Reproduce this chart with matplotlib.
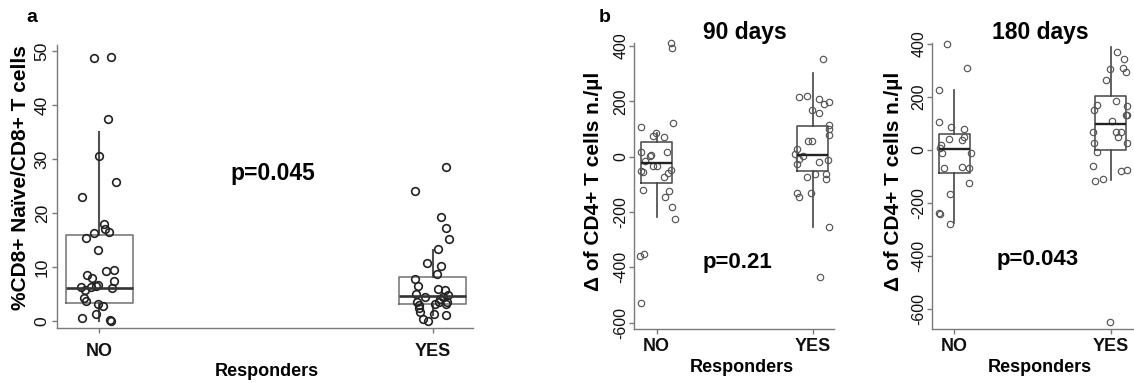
import matplotlib
matplotlib.use("Agg")
import matplotlib.pyplot as plt
import numpy as np

plt.rcParams['font.family'] = ['Liberation Sans', 'DejaVu Sans']

groups = ['NO', 'YES']

# ---- Panel a: %CD8+ Naive / CD8+ T cells ----
a_no_vals = [48.7, 49.0, 37.4, 30.5, 25.7, 23.0, 17.9, 17.0, 16.4, 16.3, 15.4, 13.2,
             9.2, 9.5, 8.5, 7.9, 7.3, 6.3, 5.7, 6.3, 6.5, 6.7, 6.1, 4.2, 3.6, 3.1,
             2.8, 1.3, 0.5, 0.0, 0.1]
a_no_jit = [-0.015, 0.036, 0.027, 0.0, 0.051, -0.051, 0.015, 0.018, 0.030, -0.015,
            -0.039, -0.003, 0.021, 0.045, -0.036, -0.021, 0.045, -0.054, -0.042,
            -0.024, -0.009, -0.003, 0.039, -0.045, -0.039, -0.003, 0.012, -0.009,
            -0.051, 0.036, 0.033]
a_yes_vals = [28.5, 24.0, 19.2, 17.3, 15.1, 13.3, 10.7, 10.1, 8.6, 7.7, 6.4, 5.9,
              5.8, 5.0, 4.4, 4.5, 4.8, 4.1, 3.4, 3.0, 3.2, 3.4, 3.4, 2.4, 1.7, 3.1,
              1.3, 1.0, 0.4, 0.0]
a_yes_jit = [0.039, -0.054, 0.024, 0.039, 0.048, 0.015, -0.018, 0.024, 0.012, -0.054,
             -0.045, 0.015, 0.036, -0.051, -0.024, 0.030, 0.045, 0.021, -0.048,
             -0.042, 0.006, 0.018, 0.042, -0.042, -0.039, 0.039, 0.003, 0.039,
             -0.030, -0.015]
# box stats: q1, median, q3, lower whisker, upper whisker
a_box = {'NO': (3.3, 6.1, 16.0, 0.0, 35.0), 'YES': (3.2, 4.6, 8.1, 1.0, 13.1)}
a_yticks = [0, 10, 20, 30, 40, 50]

# ---- Panel b: delta CD4+ T cells, 90 days ----
b90_no_vals = [410, 394, 108, 121, 85, 75, 72, 17, 16, 6, 4, -16, -33, -34, -52, -55,
               -48, -58, -74, -120, -124, -147, -181, -226, -358, -353, -530]
b90_no_jit = [0.092, 0.101, -0.098, 0.107, -0.004, -0.026, 0.049, -0.103, 0.064,
              -0.038, -0.043, -0.075, -0.021, 0.004, -0.103, -0.090, 0.092, 0.075,
              0.049, -0.085, 0.079, 0.051, 0.096, 0.117, -0.107, -0.081, -0.103]
b90_yes_vals = [352, 215, 220, 210, 192, 198, 168, 157, 115, 100, 80, 58, 56, 29, 9, 4,
                -8, -26, -12, -20, -73, -63, -61, -82, -130, -145, -130, -255, -434]
b90_yes_jit = [0.064, -0.088, -0.040, 0.037, 0.069, 0.104, -0.004, 0.043, 0.107, 0.107,
               0.107, -0.028, -0.002, -0.101, -0.111, -0.060, -0.085, -0.103, 0.098,
               0.038, -0.038, 0.015, 0.085, 0.083, -0.103, -0.085, -0.013, 0.104, 0.047]
b90_box = {'NO': (-95, -22, 54, -219, 87), 'YES': (-52, 5, 111, -253, 301)}

# ---- Panel b: delta CD4+ T cells, 180 days ----
b180_no_vals = [400, 308, 226, 107, 88, 80, 40, 38, 48, 20, 6, -10, -13, -69, -63, -68,
                -123, -166, -239, -240, -279]
b180_no_jit = [-0.047, 0.081, -0.098, -0.098, -0.019, 0.059, -0.036, 0.049, 0.062,
               -0.083, -0.091, -0.079, 0.109, -0.064, 0.051, 0.094, 0.094, -0.027,
               -0.096, -0.090, -0.027]
b180_yes_vals = [369, 343, 306, 308, 296, 264, 184, 170, 166, 150, 132, 132, 111, 67, 67,
                 69, 48, 25, 25, -6, -59, -79, -77, -108, -117, -650]
b180_yes_jit = [0.043, 0.088, -0.006, 0.081, 0.100, -0.030, 0.034, -0.085, 0.102, -0.107,
                0.096, 0.102, 0.011, -0.115, 0.032, 0.066, 0.049, -0.104, 0.102, -0.085,
                -0.115, 0.066, 0.102, -0.047, -0.102, -0.006]
b180_box = {'NO': (-87, 2, 60, -277, 228), 'YES': (0, 97, 205, -113, 388)}
b_yticks = [-600, -400, -200, 0, 200, 400]

titles = ['90 days', '180 days']
p_texts = ['p=0.045', 'p=0.21', 'p=0.043']

W, H = 1134, 383
fig = plt.figure(figsize=(W / 100, H / 100), dpi=100)


def px_ax(l, t, r, b):
    return fig.add_axes([l / W, 1 - b / H, (r - l) / W, (b - t) / H])


def make_stats(box):
    out = []
    for g in groups:
        q1, med, q3, lo, hi = box[g]
        out.append(dict(q1=q1, med=med, q3=q3, whislo=lo, whishi=hi, fliers=[]))
    return out


def style_axes(ax, yticks, tick_fs, xpad, ypad):
    for s in ['top', 'right']:
        ax.spines[s].set_visible(False)
    for s in ['left', 'bottom']:
        ax.spines[s].set_color('#7a7a7a')
        ax.spines[s].set_linewidth(1.0)
    ax.set_xticks([1, 2])
    ax.set_xticklabels(groups, fontsize=13, fontweight='bold')
    ax.set_yticks(yticks)
    ax.set_yticklabels([str(v) for v in yticks], fontsize=tick_fs, rotation=90, va='center')
    ax.tick_params(axis='both', colors='#7a7a7a', length=3.5, width=1.0, labelcolor='#111111')
    ax.tick_params(axis='x', pad=xpad)
    ax.tick_params(axis='y', pad=ypad)


# Panel a
axa = px_ax(57.3, 45, 472.7, 328.3)
axa.bxp(make_stats(a_box), positions=[1, 2], widths=0.2, showcaps=False, showfliers=False,
        boxprops=dict(color='#707070', linewidth=1.1),
        medianprops=dict(color='#333333', linewidth=1.9),
        whiskerprops=dict(color='#505050', linewidth=1.5))
axa.plot(1 + np.array(a_no_jit), a_no_vals, 'o', mfc='none', mec='#222222', ms=5.5, mew=1.2,
         clip_on=False)
axa.plot(2 + np.array(a_yes_jit), a_yes_vals, 'o', mfc='none', mec='#222222', ms=5.5, mew=1.2,
         clip_on=False)
axa.set_xlim(0.874, 2.12)
axa.set_ylim(-1.4, 51.2)
style_axes(axa, a_yticks, 12.5, 7, 2.0)
axa.text(1.52, 26.2, p_texts[0], fontsize=16.5, fontweight='bold', ha='center', va='baseline')

# Panel b 90 / 180
ax9 = px_ax(634, 42.7, 834.3, 329.3)
ax18 = px_ax(932.3, 42.7, 1134, 329.3)
for ax, box, nv, nj, yv, yj, ylim, xlim in [
        (ax9, b90_box, b90_no_vals, b90_no_jit, b90_yes_vals, b90_yes_jit, (-624, 412), (0.855, 2.138)),
        (ax18, b180_box, b180_no_vals, b180_no_jit, b180_yes_vals, b180_yes_jit, (-677, 405), (0.859, 2.149))]:
    ax.bxp(make_stats(box), positions=[1, 2], widths=0.2, showcaps=False, showfliers=False,
           boxprops=dict(color='#454545', linewidth=1.1),
           medianprops=dict(color='#222222', linewidth=1.7),
           whiskerprops=dict(color='#454545', linewidth=1.2))
    ax.plot(1 + np.array(nj), nv, 'o', mfc='none', mec='#555555', ms=4.6, mew=0.85, clip_on=False)
    ax.plot(2 + np.array(yj), yv, 'o', mfc='none', mec='#555555', ms=4.6, mew=0.85, clip_on=False)
    ax.set_xlim(*xlim)
    ax.set_ylim(*ylim)
    style_axes(ax, b_yticks, 11.5, 3, 0.5)

ax9.text(1.52, -403, p_texts[1], fontsize=16, fontweight='bold', ha='center', va='baseline')
ax18.text(1.535, -434, p_texts[2], fontsize=16, fontweight='bold', ha='center', va='baseline')

# Titles
fig.text(745 / W, 1 - 33 / H, titles[0], fontsize=16.5, fontweight='bold', ha='center', va='center')
fig.text(1040 / W, 1 - 33 / H, titles[1], fontsize=16.5, fontweight='bold', ha='center', va='center')

# Axis labels
fig.text(21 / W, 1 - 178 / H, '%CD8+ Naïve/CD8+ T cells', fontsize=15, fontweight='bold',
         rotation=90, ha='center', va='center')
fig.text(593.5 / W, 1 - 181 / H, 'Δ of CD4+ T cells n./µl', fontsize=15, fontweight='bold',
         rotation=90, ha='center', va='center')
fig.text(893.5 / W, 1 - 181 / H, 'Δ of CD4+ T cells n./µl', fontsize=15, fontweight='bold',
         rotation=90, ha='center', va='center')
fig.text(267 / W, 1 - 372 / H, 'Responders', fontsize=13, fontweight='bold', ha='center', va='center')
fig.text(742 / W, 1 - 367 / H, 'Responders', fontsize=13, fontweight='bold', ha='center', va='center')
fig.text(1040 / W, 1 - 367 / H, 'Responders', fontsize=13, fontweight='bold', ha='center', va='center')

# Panel letters
fig.text(32 / W, 1 - 18 / H, 'a', fontsize=14, fontweight='bold', ha='center', va='center')
fig.text(605 / W, 1 - 17 / H, 'b', fontsize=14, fontweight='bold', ha='center', va='center')

fig.savefig('out.png', dpi=100, facecolor='white')
